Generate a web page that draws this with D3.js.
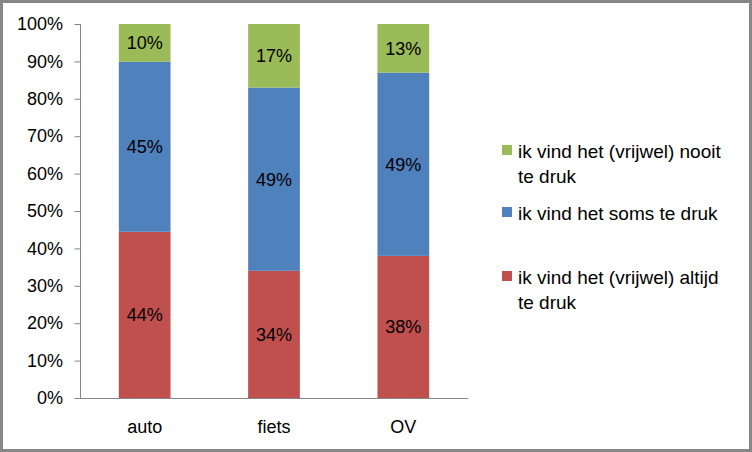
<!DOCTYPE html>
<html>
<head>
<meta charset="utf-8">
<script src="https://cdn.jsdelivr.net/npm/d3@7"></script>
<style>
html,body{margin:0;padding:0;background:#fff;}
svg{display:block;}
text{font-family:"Liberation Sans",Arial,sans-serif;fill:#000;}
</style>
</head>
<body>
<svg id="chart" width="752" height="452"></svg>
<script>
const categories = ["auto", "fiets", "OV"];
const altijd = [44, 34, 38];
const soms = [45, 49, 49];
const nooit = [10, 17, 13];
const seriesNames = ["ik vind het (vrijwel) altijd te druk", "ik vind het soms te druk", "ik vind het (vrijwel) nooit te druk"];
const seriesColors = ["#C0504D", "#4F81BD", "#9BBB59"];
const yTicks = [0, 0.1, 0.2, 0.3, 0.4, 0.5, 0.6, 0.7, 0.8, 0.9, 1.0];

const svg = d3.select("#chart");
const W = 752, H = 452;

svg.append("rect").attr("x", 1.5).attr("y", 1.5).attr("width", W - 3).attr("height", H - 3)
  .attr("fill", "#fff").attr("stroke", "#878787").attr("stroke-width", 3);

const x = d3.scaleBand().domain(categories).range([80, 468]).paddingInner(0.6).paddingOuter(0.3);
const y = d3.scaleLinear().domain([0, 1]).range([398, 24]);

const table = categories.map((c, i) => {
  const tot = altijd[i] + soms[i] + nooit[i];
  return {cat: c, s0: altijd[i] / tot, s1: soms[i] / tot, s2: nooit[i] / tot, r0: altijd[i], r1: soms[i], r2: nooit[i]};
});
const stack = d3.stack().keys(["s0", "s1", "s2"])(table);

const g = svg.append("g");
stack.forEach((layer, li) => {
  g.selectAll(null).data(layer).enter().append("rect")
    .attr("x", d => x(d.data.cat))
    .attr("width", x.bandwidth())
    .attr("y", d => y(d[1]))
    .attr("height", d => y(d[0]) - y(d[1]))
    .attr("fill", seriesColors[li]);
  g.selectAll(null).data(layer).enter().append("text")
    .attr("x", d => x(d.data.cat) + x.bandwidth() / 2)
    .attr("y", d => y((d[0] + d[1]) / 2))
    .attr("dy", "0.36em")
    .attr("text-anchor", "middle")
    .style("font-size", "18px")
    .text(d => d.data["r" + li] + "%");
});

// Y axis
const yAxis = svg.append("g").attr("transform", "translate(80,0)")
  .call(d3.axisLeft(y).tickValues(yTicks).tickFormat(d => Math.round(d * 100) + "%").tickSize(6).tickPadding(11));
yAxis.select(".domain").attr("stroke", "#868686").attr("d", "M0.5,24V398.5");
yAxis.selectAll(".tick line").attr("stroke", "#868686").attr("transform", "translate(0.5,0)");
yAxis.selectAll(".tick text").style("font-size", "18px").attr("fill", "#000").style("font-family", "'Liberation Sans',Arial,sans-serif");

// X axis
const xAxis = svg.append("g").attr("transform", "translate(0,398)")
  .call(d3.axisBottom(x).tickSize(0).tickPadding(22));
xAxis.select(".domain").attr("stroke", "#868686").attr("d", "M80,0.5H468");
xAxis.selectAll(".tick text").style("font-size", "18px").attr("fill", "#000").style("font-family", "'Liberation Sans',Arial,sans-serif");

// Legend
const legendItems = [
  {i: 2, lines: ["ik vind het (vrijwel) nooit", "te druk"], y: 151},
  {i: 1, lines: ["ik vind het soms te druk"], y: 213},
  {i: 0, lines: ["ik vind het (vrijwel) altijd", "te druk"], y: 277}
];
const lg = svg.append("g");
legendItems.forEach(it => {
  lg.append("rect").attr("x", 502).attr("y", it.y - 6).attr("width", 10).attr("height", 10).attr("fill", seriesColors[it.i]);
  it.lines.forEach((ln, k) => {
    lg.append("text").attr("x", 518).attr("y", it.y + k * 25.5).attr("dy", "0.35em")
      .style("font-size", "19px").text(ln);
  });
});
</script>
</body>
</html>
